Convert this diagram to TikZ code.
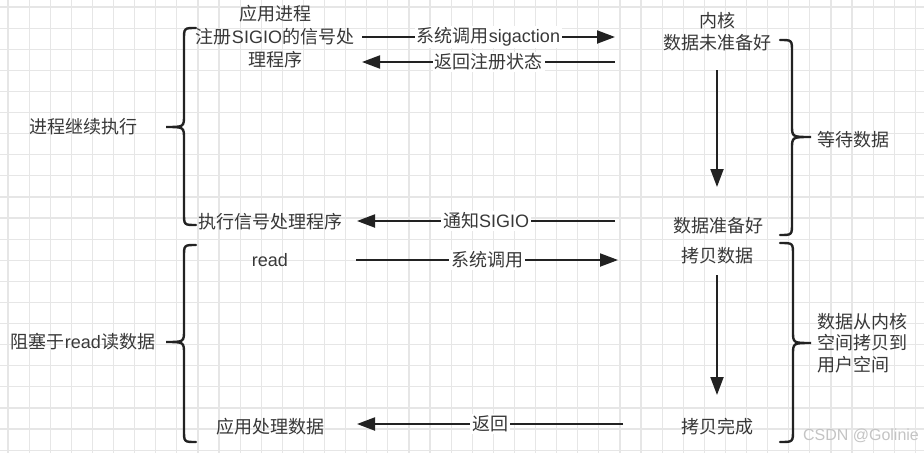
\documentclass[tikz,border=0pt]{standalone}
\usepackage{fontspec}
\setmainfont{Liberation Sans}
\newfontfamily\cjk{Noto Sans CJK SC}
\usetikzlibrary{arrows.meta}
\definecolor{txt}{HTML}{383838}
\definecolor{ln}{HTML}{222222}
\definecolor{gridc}{HTML}{E6E6E6}
\definecolor{wm}{HTML}{C4C4C4}
\newcommand\mybrace[6]{\draw[brace] (#1,#4) .. controls (#2,#4) .. (#2,{#4+12}) -- (#2,{#5-12}) .. controls (#2,#5) .. (#3,#5) .. controls (#2,#5) .. (#2,{#5+12}) -- (#2,{#6-12}) .. controls (#2,#6) .. (#1,#6);}
\begin{document}
\begin{tikzpicture}[x=1pt,y=-1pt,
  lbl/.style={text=txt,font=\fontsize{18}{23}\selectfont,inner sep=1pt},
  elbl/.style={text=txt,font=\fontsize{18}{21}\selectfont,fill=white,inner sep=2pt},
  arr/.style={draw=ln,line width=2pt,-{Triangle[length=18pt,width=13pt]}},
  brace/.style={draw=ln,line width=2.4pt,line cap=round}]
\useasboundingbox (0,0) rectangle (924,453);
\fill[white] (0,0) rectangle (924,453);
\foreach \i in {0,...,43} \draw[gridc,line width=1.2pt] ({8+21.1*\i},0) -- ({8+21.1*\i},453);
\foreach \i in {0,...,21} \draw[gridc,line width=1.2pt] (0,{7+21.1*\i}) -- (924,{7+21.1*\i});

% left side
\node[lbl,align=center] (app) at (275,37) {{\cjk 应用进程}\\{\cjk 注册}SIGIO{\cjk 的信号处}\\{\cjk 理程序}};
\node[lbl] (cont) at (83,127) {\cjk 进程继续执行};
\node[lbl] (exec) at (270,222) {\cjk 执行信号处理程序};
\node[lbl] (read) at (270,260) {read};
\node[lbl] (block) at (83,342) {{\cjk 阻塞于}read{\cjk 读数据}};
\node[lbl] (proc) at (270,427) {\cjk 应用处理数据};

% right side
\node[lbl,align=center,font=\fontsize{18}{22}\selectfont] (kern) at (717,32) {{\cjk 内核}\\{\cjk 数据未准备好}};
\node[lbl] (ready) at (718,226) {\cjk 数据准备好};
\node[lbl] (copy) at (717,256) {\cjk 拷贝数据};
\node[lbl] (done) at (717,427) {\cjk 拷贝完成};
\node[lbl] (wait) at (853,140) {\cjk 等待数据};
\node[lbl,align=left,anchor=west,font=\fontsize{18}{21.5}\selectfont] (copyk) at (816,343) {{\cjk 数据从内核}\\{\cjk 空间拷贝到}\\{\cjk 用户空间}};
\node[text=wm,font=\fontsize{16}{18}\selectfont,inner sep=0pt] (wmk) at (861,436) {CSDN @Golinie};

% braces
\mybrace{196}{184}{166}{28}{127}{225}
\mybrace{196}{184}{166}{245}{342}{442}
\mybrace{780}{792}{811}{40}{137}{235}
\mybrace{780}{793}{811}{243}{343}{442}

% arrows
\coordinate (a1s) at (362,37); \coordinate (a1e) at (615,37);
\coordinate (a2s) at (615,62); \coordinate (a2e) at (362,62);
\coordinate (a3s) at (615,221); \coordinate (a3e) at (357,221);
\coordinate (a4s) at (356,260); \coordinate (a4e) at (618,260);
\coordinate (a5s) at (623,424); \coordinate (a5e) at (357,424);
\coordinate (v1s) at (717,70); \coordinate (v1e) at (717,187);
\coordinate (v2s) at (717,275); \coordinate (v2e) at (717,395);
\draw[arr] (a1s) -- node[elbl] (l1) {{\cjk 系统调用}sigaction} (a1e);
\draw[arr] (a2s) -- node[elbl] (l2) {\cjk 返回注册状态} (a2e);
\draw[arr] (a3s) -- node[elbl] (l3) {{\cjk 通知}SIGIO} (a3e);
\draw[arr] (a4s) -- node[elbl] (l4) {\cjk 系统调用} (a4e);
\draw[arr] (a5s) -- node[elbl] (l5) {\cjk 返回} (a5e);
\draw[arr] (v1s) -- (v1e);
\draw[arr] (v2s) -- (v2e);
\end{tikzpicture}
\end{document}
